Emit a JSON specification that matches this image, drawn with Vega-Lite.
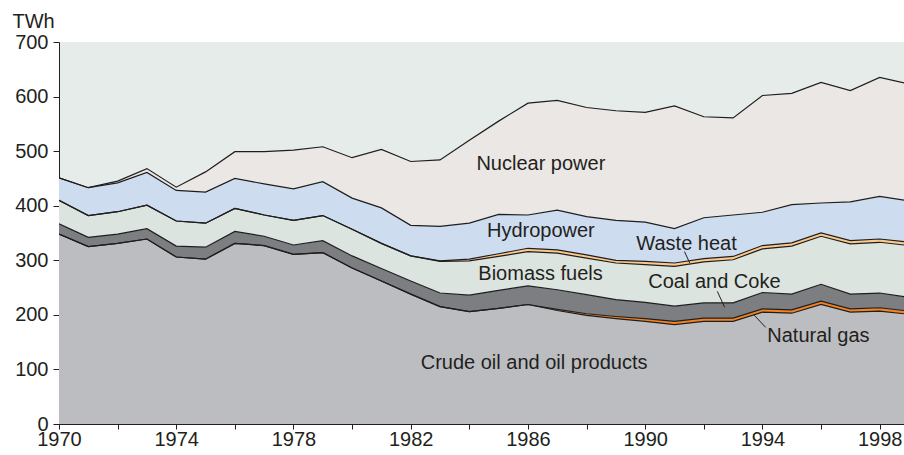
{
  "$schema": "https://vega.github.io/schema/vega-lite/v6.json",
  "width": 845,
  "height": 382,
  "autosize": {"type": "none"},
  "padding": {"left": 59, "top": 42, "right": 0, "bottom": 31},
  "background": "#ffffff",
  "config": {
    "view": {"fill": "#e5ecea", "stroke": null},
    "font": "Liberation Sans",
    "text": {"font": "Liberation Sans"}
  },
  "datasets": {
    "energy": [
      {"year": 1970, "crude": 348, "gas": 0, "coal": 19, "biomass": 43, "waste": 0, "hydro": 41, "nuclear": 0},
      {"year": 1971, "crude": 325, "gas": 0, "coal": 17, "biomass": 40, "waste": 0, "hydro": 51, "nuclear": 0},
      {"year": 1972, "crude": 331, "gas": 0, "coal": 17, "biomass": 41, "waste": 0, "hydro": 53, "nuclear": 3},
      {"year": 1973, "crude": 339, "gas": 0, "coal": 19, "biomass": 43, "waste": 0, "hydro": 60, "nuclear": 7},
      {"year": 1974, "crude": 306, "gas": 0, "coal": 20, "biomass": 46, "waste": 0, "hydro": 56, "nuclear": 6},
      {"year": 1975, "crude": 302, "gas": 0, "coal": 22, "biomass": 44, "waste": 0, "hydro": 57, "nuclear": 37},
      {"year": 1976, "crude": 331, "gas": 0, "coal": 22, "biomass": 42, "waste": 0, "hydro": 55, "nuclear": 49},
      {"year": 1977, "crude": 327, "gas": 0, "coal": 17, "biomass": 39, "waste": 0, "hydro": 57, "nuclear": 59},
      {"year": 1978, "crude": 311, "gas": 0, "coal": 17, "biomass": 45, "waste": 0, "hydro": 58, "nuclear": 71},
      {"year": 1979, "crude": 314, "gas": 0, "coal": 22, "biomass": 46, "waste": 0, "hydro": 62, "nuclear": 64},
      {"year": 1980, "crude": 286, "gas": 0, "coal": 22, "biomass": 49, "waste": 0, "hydro": 57, "nuclear": 74},
      {"year": 1981, "crude": 262, "gas": 0, "coal": 23, "biomass": 46, "waste": 0, "hydro": 65, "nuclear": 107},
      {"year": 1982, "crude": 238, "gas": 0, "coal": 24, "biomass": 46, "waste": 0, "hydro": 56, "nuclear": 117},
      {"year": 1983, "crude": 215, "gas": 0, "coal": 25, "biomass": 58, "waste": 1, "hydro": 63, "nuclear": 122},
      {"year": 1984, "crude": 206, "gas": 0, "coal": 30, "biomass": 63, "waste": 3, "hydro": 66, "nuclear": 152},
      {"year": 1985, "crude": 212, "gas": 0, "coal": 33, "biomass": 62, "waste": 5, "hydro": 72, "nuclear": 171},
      {"year": 1986, "crude": 219, "gas": 0, "coal": 34, "biomass": 63, "waste": 6, "hydro": 61, "nuclear": 205},
      {"year": 1987, "crude": 208, "gas": 2, "coal": 36, "biomass": 67, "waste": 6, "hydro": 73, "nuclear": 201},
      {"year": 1988, "crude": 199, "gas": 3, "coal": 35, "biomass": 67, "waste": 6, "hydro": 70, "nuclear": 200},
      {"year": 1989, "crude": 193, "gas": 4, "coal": 31, "biomass": 67, "waste": 5, "hydro": 73, "nuclear": 201},
      {"year": 1990, "crude": 188, "gas": 5, "coal": 30, "biomass": 69, "waste": 6, "hydro": 72, "nuclear": 201},
      {"year": 1991, "crude": 182, "gas": 6, "coal": 28, "biomass": 73, "waste": 6, "hydro": 63, "nuclear": 225},
      {"year": 1992, "crude": 188, "gas": 6, "coal": 28, "biomass": 75, "waste": 6, "hydro": 75, "nuclear": 185},
      {"year": 1993, "crude": 188, "gas": 6, "coal": 28, "biomass": 79, "waste": 6, "hydro": 76, "nuclear": 178},
      {"year": 1994, "crude": 205, "gas": 6, "coal": 30, "biomass": 80, "waste": 6, "hydro": 61, "nuclear": 214},
      {"year": 1995, "crude": 203, "gas": 6, "coal": 29, "biomass": 88, "waste": 6, "hydro": 70, "nuclear": 204},
      {"year": 1996, "crude": 219, "gas": 6, "coal": 31, "biomass": 88, "waste": 6, "hydro": 55, "nuclear": 221},
      {"year": 1997, "crude": 205, "gas": 6, "coal": 27, "biomass": 92, "waste": 6, "hydro": 71, "nuclear": 204},
      {"year": 1998, "crude": 207, "gas": 6, "coal": 27, "biomass": 93, "waste": 6, "hydro": 78, "nuclear": 218},
      {"year": 1999, "crude": 201, "gas": 6, "coal": 25, "biomass": 95, "waste": 6, "hydro": 76, "nuclear": 214}
    ],
    "labels": [
      {"year": 1986.44, "value": 476, "text": "Nuclear power"},
      {"year": 1986.44, "value": 353, "text": "Hydropower"},
      {"year": 1986.43, "value": 275, "text": "Biomass fuels"},
      {"year": 1991.41, "value": 330, "text": "Waste heat"},
      {"year": 1992.36, "value": 260, "text": "Coal and Coke"},
      {"year": 1995.91, "value": 162, "text": "Natural gas"},
      {"year": 1986.21, "value": 111, "text": "Crude oil and oil products"}
    ],
    "leaders": [
      {"year": 1991.34, "value": 316, "year2": 1991.52, "value2": 295},
      {"year": 1992.46, "value": 243, "year2": 1992.71, "value2": 214},
      {"year": 1993.71, "value": 200, "year2": 1994.11, "value2": 177}
    ]
  },
  "layer": [
    {
      "data": {"name": "energy"},
      "transform": [
        {"fold": ["crude", "gas", "coal", "biomass", "waste", "hydro", "nuclear"], "as": ["source", "value"]},
        {"calculate": "indexof(['crude','gas','coal','biomass','waste','hydro','nuclear'], datum.source)", "as": "rank"},
        {"stack": "value", "groupby": ["year"], "sort": [{"field": "rank", "order": "ascending"}], "as": ["v0", "v1"]}
      ],
      "layer": [
        {
          "mark": {"type": "area", "clip": true},
          "encoding": {
            "x": {
              "field": "year", "type": "quantitative",
              "scale": {"domain": [1970, 1998.83], "nice": false, "zero": false},
              "axis": {
                "title": null,
                "values": [1970,1971,1972,1973,1974,1975,1976,1977,1978,1979,1980,1981,1982,1983,1984,1985,1986,1987,1988,1989,1990,1991,1992,1993,1994,1995,1996,1997,1998],
                "format": "d",
                "labelExpr": "datum.value % 4 == 2 ? datum.label : ''",
                "labelOverlap": false,
                "labelFlush": false,
                "grid": false,
                "labelFontSize": 20,
                "labelColor": "#231f20",
                "tickColor": "#231f20",
                "domainColor": "#231f20",
                "tickSize": 5,
                "labelPadding": 0
              }
            },
            "y": {
              "field": "v1", "type": "quantitative",
              "scale": {"domain": [0, 700], "nice": false},
              "axis": {
                "title": "TWh",
                "titleAngle": 0,
                "titleAlign": "left",
                "titleBaseline": "alphabetic",
                "titleX": -47,
                "titleY": -15,
                "titleFontSize": 20,
                "titleFontWeight": "normal",
                "titleColor": "#231f20",
                "values": [0, 100, 200, 300, 400, 500, 600, 700],
                "grid": false,
                "labelFontSize": 20,
                "labelColor": "#231f20",
                "tickColor": "#231f20",
                "domainColor": "#231f20",
                "tickSize": 6,
                "labelPadding": 5
              }
            },
            "y2": {"field": "v0"},
            "color": {
              "field": "source", "type": "nominal",
              "scale": {
                "domain": ["crude", "gas", "coal", "biomass", "waste", "hydro", "nuclear"],
                "range": ["#bcbdc1", "#f58220", "#7d7e82", "#dce4df", "#fdc88a", "#cedcf0", "#ebe7e4"]
              },
              "legend": null
            },
            "order": {"field": "rank", "type": "quantitative"}
          }
        },
        {
          "mark": {"type": "line", "clip": true, "color": "#1e1e1e", "strokeWidth": 1.2},
          "encoding": {
            "x": {"field": "year", "type": "quantitative"},
            "y": {"field": "v1", "type": "quantitative"},
            "detail": {"field": "source", "type": "nominal"}
          }
        }
      ]
    },
    {
      "mark": {"type": "rule", "color": "#231f20", "strokeWidth": 1},
      "encoding": {"y": {"datum": 700}}
    },
    {
      "data": {"name": "leaders"},
      "mark": {"type": "rule", "color": "#231f20", "strokeWidth": 1},
      "encoding": {
        "x": {"field": "year", "type": "quantitative"},
        "x2": {"field": "year2"},
        "y": {"field": "value", "type": "quantitative"},
        "y2": {"field": "value2"}
      }
    },
    {
      "data": {"name": "labels"},
      "mark": {"type": "text", "fontSize": 20, "color": "#231f20", "align": "center", "baseline": "middle", "font": "Liberation Sans"},
      "encoding": {
        "x": {"field": "year", "type": "quantitative"},
        "y": {"field": "value", "type": "quantitative"},
        "text": {"field": "text"}
      }
    }
  ]
}
